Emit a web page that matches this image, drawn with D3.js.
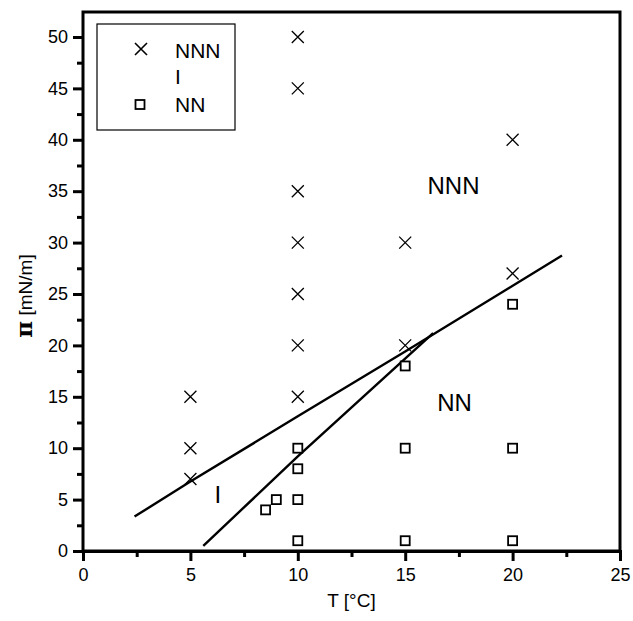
<!DOCTYPE html>
<html>
<head>
<meta charset="utf-8">
<script src="https://cdn.jsdelivr.net/npm/d3@7"></script>
<style>
  body { margin: 0; background: #fff; }
  svg text { font-family: "Liberation Sans", Arial, sans-serif; fill: #000; }
</style>
</head>
<body>
<div id="chart"></div>
<script>
// data
const nnnPoints = [
  [5, 7], [5, 10], [5, 15],
  [10, 15], [10, 20], [10, 25], [10, 30], [10, 35], [10, 45], [10, 50],
  [15, 20], [15, 30],
  [20, 27], [20, 40]
];
const nnPoints = [
  [8.5, 4], [9, 5],
  [10, 1], [10, 5], [10, 8], [10, 10],
  [15, 1], [15, 10], [15, 18],
  [20, 1], [20, 10], [20, 24]
];
const upperBoundary = [[2.4, 3.35], [5, 6.75], [10, 13.1], [15, 19.4], [22.3, 28.75]];
const lowerBoundary = [[5.6, 0.5], [10, 9.2], [16.3, 21.2]];
const xTicks = [0, 5, 10, 15, 20, 25];
const yTicks = [0, 5, 10, 15, 20, 25, 30, 35, 40, 45, 50];
const regionLabels = [
  { text: "NNN", x: 17.25, y: 34.7 },
  { text: "NN", x: 17.3, y: 13.6 },
  { text: "I", x: 6.28, y: 4.67 }
];

const width = 633, height = 621;
const margin = { top: 12, right: 13, bottom: 70, left: 83 };

const svg = d3.select("#chart")
  .append("svg")
    .attr("width", width)
    .attr("height", height);

const x = d3.scaleLinear()
  .domain([0, 25])
  .range([margin.left, width - margin.right]);

const y = d3.scaleLinear()
  .domain([0, 52.43])
  .range([height - margin.bottom, margin.top]);

// frame
svg.append("rect")
  .attr("x", x(0))
  .attr("y", y(52.43))
  .attr("width", x(25) - x(0))
  .attr("height", y(0) - y(52.43))
  .attr("fill", "none")
  .attr("stroke", "#000")
  .attr("stroke-width", 3);

// X axis
const xAxis = svg.append("g")
  .attr("transform", `translate(0,${y(0)})`)
  .call(d3.axisBottom(x).tickValues(xTicks).tickSize(10).tickPadding(7));
svg.append("g")
  .attr("transform", `translate(0,${y(0)})`)
  .call(d3.axisBottom(x).tickValues(d3.range(2.5, 25, 5)).tickSize(6).tickFormat(""))
  .call(g => g.select(".domain").remove())
  .selectAll("line").attr("stroke-width", 3);
xAxis.select(".domain").attr("stroke-width", 3);
xAxis.selectAll("line").attr("stroke-width", 3);
xAxis.selectAll("text").style("font-size", "18px");

// Y axis
const yAxis = svg.append("g")
  .attr("transform", `translate(${x(0)},0)`)
  .call(d3.axisLeft(y).tickValues(yTicks).tickSize(10).tickPadding(5));
svg.append("g")
  .attr("transform", `translate(${x(0)},0)`)
  .call(d3.axisLeft(y).tickValues(d3.range(2.5, 52.5, 5)).tickSize(6).tickFormat(""))
  .call(g => g.select(".domain").remove())
  .selectAll("line").attr("stroke-width", 3);
yAxis.select(".domain").remove();
yAxis.selectAll("line").attr("stroke-width", 3);
yAxis.selectAll("text").style("font-size", "18px");

// axis titles
svg.append("text")
  .attr("x", (x(0) + x(25)) / 2)
  .attr("y", 607)
  .attr("text-anchor", "middle")
  .style("font-size", "19px")
  .text("T [°C]");

const yTitle = svg.append("text")
  .attr("transform", "translate(32,296) rotate(-90)")
  .attr("text-anchor", "middle")
  .style("font-size", "19px");
yTitle.append("tspan").style("font-weight", "bold").style("font-size", "23px")
  .style("font-family", "'DejaVu Serif', serif").text("π");
yTitle.append("tspan").text(" [mN/m]");

// boundary lines
const line = d3.line().x(d => x(d[0])).y(d => y(d[1]));
[upperBoundary, lowerBoundary].forEach(b => {
  svg.append("path")
    .attr("d", line(b))
    .attr("fill", "none")
    .attr("stroke", "#000")
    .attr("stroke-width", 2.4);
});

// NNN crosses
const cs = 6;
svg.append("g").selectAll("path")
  .data(nnnPoints)
  .join("path")
    .attr("d", d => `M${x(d[0]) - cs},${y(d[1]) - cs}L${x(d[0]) + cs},${y(d[1]) + cs}M${x(d[0]) - cs},${y(d[1]) + cs}L${x(d[0]) + cs},${y(d[1]) - cs}`)
    .attr("stroke", "#000")
    .attr("stroke-width", 1.3);

// NN squares
svg.append("g").selectAll("rect")
  .data(nnPoints)
  .join("rect")
    .attr("x", d => x(d[0]) - 4.5)
    .attr("y", d => y(d[1]) - 4.5)
    .attr("width", 9)
    .attr("height", 9)
    .attr("fill", "#fff")
    .attr("stroke", "#000")
    .attr("stroke-width", 1.8);

// region labels
svg.append("g").selectAll("text")
  .data(regionLabels)
  .join("text")
    .attr("x", d => x(d.x))
    .attr("y", d => y(d.y))
    .attr("text-anchor", "middle")
    .style("font-size", "24px")
    .text(d => d.text);

// legend
const legend = svg.append("g");
legend.append("rect")
  .attr("x", 97).attr("y", 24).attr("width", 138).attr("height", 106)
  .attr("fill", "#fff").attr("stroke", "#000").attr("stroke-width", 1.2);
legend.append("path")
  .attr("d", "M135,43L147,55M135,55L147,43")
  .attr("stroke", "#000").attr("stroke-width", 1.6);
legend.append("rect")
  .attr("x", 135.5).attr("y", 100).attr("width", 9).attr("height", 9)
  .attr("fill", "#fff").attr("stroke", "#000").attr("stroke-width", 1.8);
[["NNN", 57.5], ["I", 83.5], ["NN", 112]].forEach(([t, yy]) => {
  legend.append("text")
    .attr("x", 175).attr("y", yy)
    .style("font-size", "21px")
    .text(t);
});
</script>
</body>
</html>
